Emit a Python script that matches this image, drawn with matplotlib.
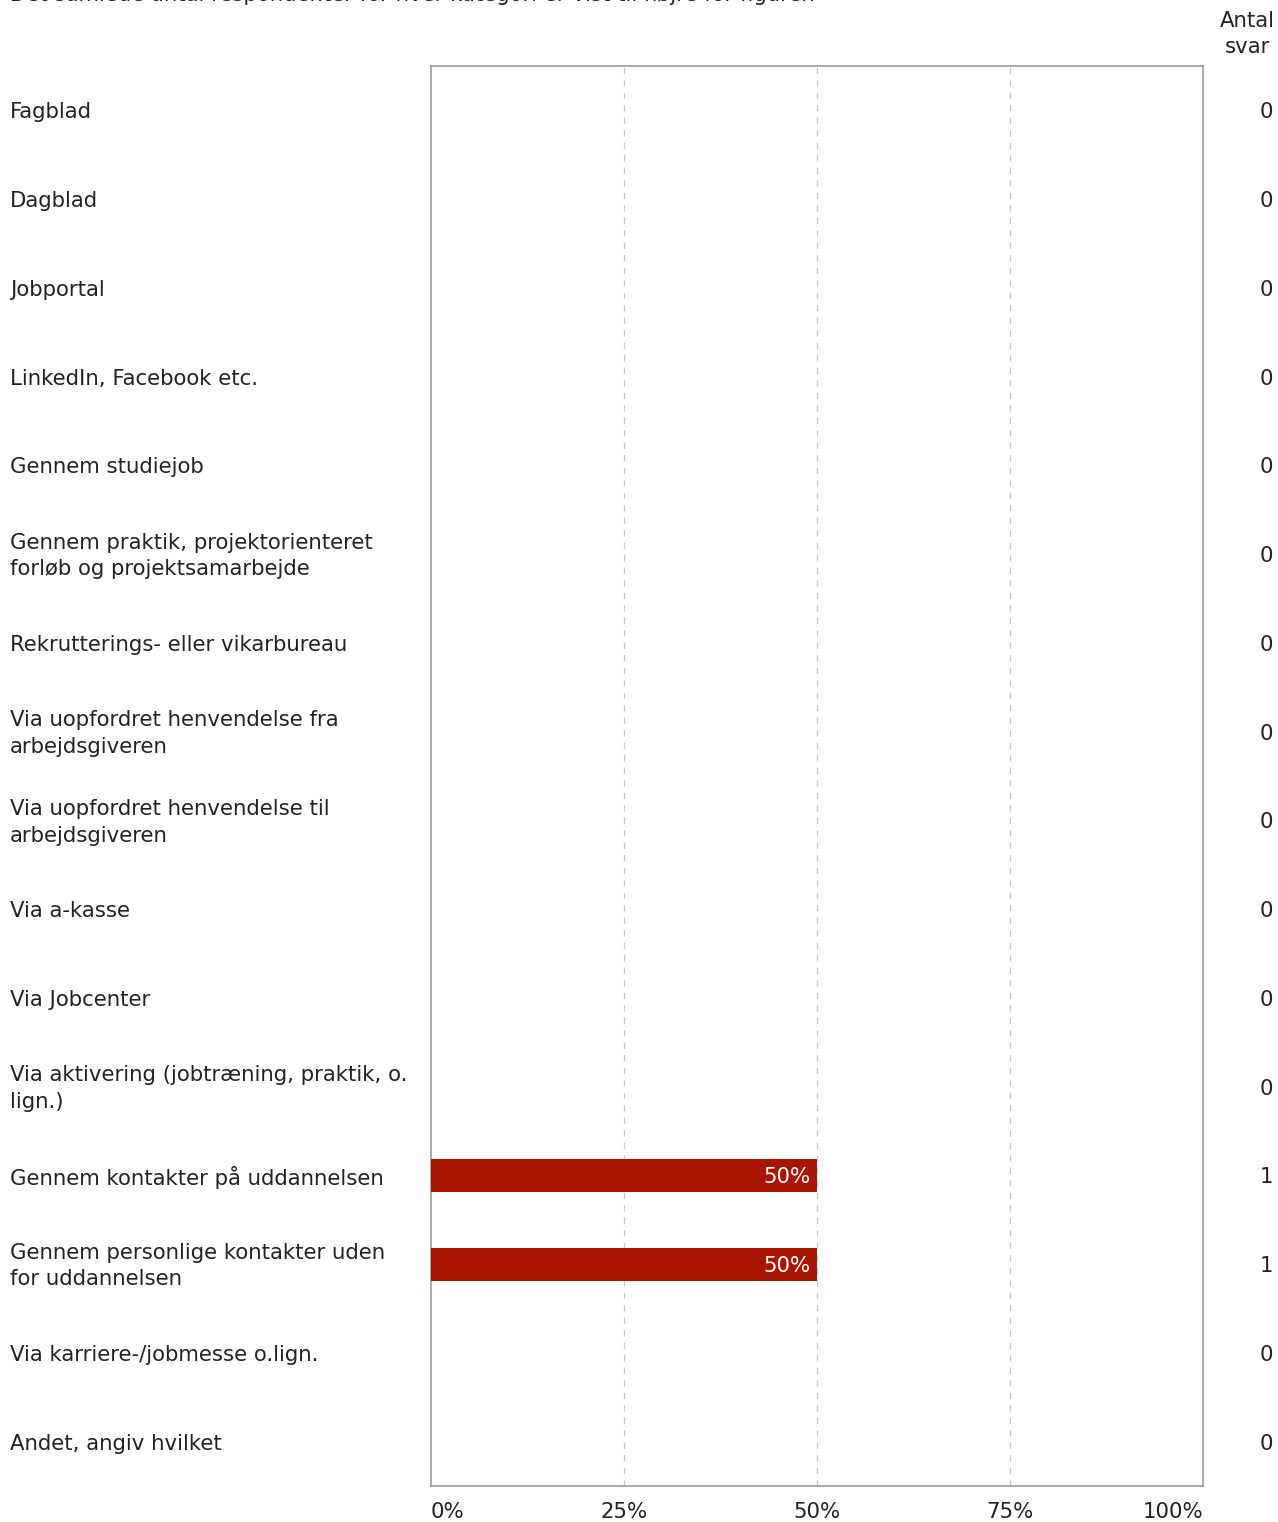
import numpy as np
import matplotlib.pyplot as plt

categories = [
    "Fagblad",
    "Dagblad",
    "Jobportal",
    "LinkedIn, Facebook etc.",
    "Gennem studiejob",
    "Gennem praktik, projektorienteret\nforløb og projektsamarbejde",
    "Rekrutterings- eller vikarbureau",
    "Via uopfordret henvendelse fra\narbejdsgiveren",
    "Via uopfordret henvendelse til\narbejdsgiveren",
    "Via a-kasse",
    "Via Jobcenter",
    "Via aktivering (jobtræning, praktik, o.\nlign.)",
    "Gennem kontakter på uddannelsen",
    "Gennem personlige kontakter uden\nfor uddannelsen",
    "Via karriere-/jobmesse o.lign.",
    "Andet, angiv hvilket",
]
percent = [0, 0, 0, 0, 0, 0, 0, 0, 0, 0, 0, 0, 50, 50, 0, 0]
counts = [0, 0, 0, 0, 0, 0, 0, 0, 0, 0, 0, 0, 1, 1, 0, 0]
xticks = [0, 25, 50, 75, 100]
xticklabels = ["0%", "25%", "50%", "75%", "100%"]

W, H = 1278, 1522
FS = 15.3
LS = 1.4
TXT = "#222222"
fig = plt.figure(figsize=(W / 100, H / 100), dpi=100)
# axes box in pixels: left 431, right 1203, top 66, bottom 1486
ax = fig.add_axes([431 / W, 1 - 1486 / H, (1203 - 431) / W, (1486 - 66) / H])

y = np.arange(len(categories))
ax.barh(y, percent, height=0.37, color="#a81500", zorder=3)
for yi, p in zip(y, percent):
    if p > 0:
        ax.text(p - 0.8, yi + 0.02, f"{p}%", color="white", ha="right", va="center",
                fontsize=FS, zorder=4)

ax.set_xlim(0, 100)
ax.set_ylim(len(categories) - 0.5, -0.5)
ax.set_yticks([])
ax.set_xticks([])
for x in xticks[1:-1]:
    ax.axvline(x, color="#c8c8c8", linestyle=(0, (5, 5)), linewidth=0.9, zorder=1)
for s in ax.spines.values():
    s.set_color("#999999")
    s.set_linewidth(1.2)

# x tick labels under the plot (axes fraction, 0 = bottom)
for x, lab in zip(xticks, xticklabels):
    ha = "left" if x == 0 else ("right" if x == 100 else "center")
    ax.text(x, -0.0185, lab, transform=ax.get_xaxis_transform(), ha=ha, va="center",
            fontsize=FS, color=TXT)

# category labels and counts
for yi, cat, n in zip(y, categories, counts):
    ypix = 66 + (yi + 0.5) * (1486 - 66) / len(categories) + 2
    fig.text(10 / W, 1 - ypix / H, cat, ha="left", va="center", fontsize=FS,
             color=TXT, linespacing=LS)
    fig.text(1273 / W, 1 - ypix / H, str(n), ha="right", va="center",
             fontsize=FS, color=TXT)

fig.text(1247 / W, 1 - 34 / H, "Antal\nsvar", ha="center", va="center",
         fontsize=FS, color=TXT, linespacing=LS)
fig.text(10 / W, 1 - (-5) / H,
         "Det samlede antal respondenter for hver kategori er vist til højre for figuren",
         ha="left", va="center", fontsize=FS, color=TXT)

fig.savefig("out.png", dpi=100)
